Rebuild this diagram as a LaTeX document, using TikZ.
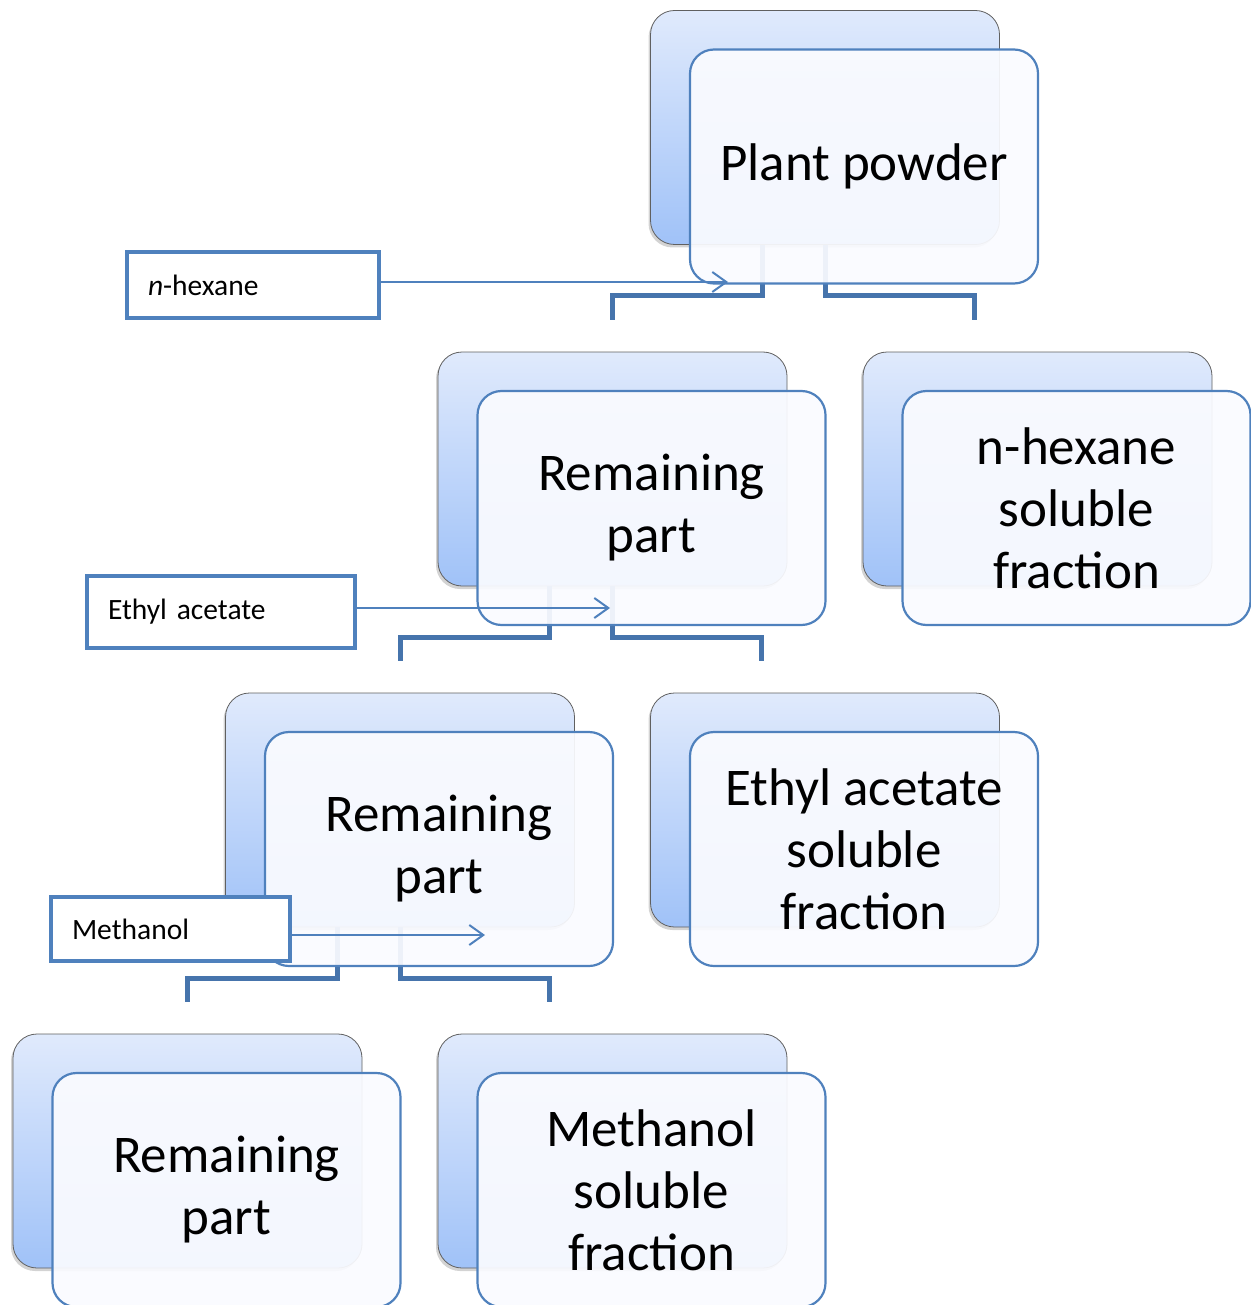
\documentclass[tikz,border=0pt]{standalone}
\usepackage{fontspec}
\setmainfont{Carlito}
\usetikzlibrary{arrows.meta,calc,shadows}

\definecolor{cardTop}{RGB}{224,234,252}
\definecolor{cardBot}{RGB}{160,194,248}
\definecolor{cardFace}{RGB}{250,251,255}
\definecolor{edgeBlue}{RGB}{79,129,189}
\definecolor{linkBlue}{RGB}{70,116,172}

\begin{document}
\begin{tikzpicture}[x=1pt, y=-1pt,
  back/.style={draw=gray!75!black, line width=0.8pt, rounded corners=24pt,
               top color=cardTop, bottom color=cardBot,
               minimum width=349pt, minimum height=234pt, inner sep=0pt,
               drop shadow={shadow xshift=-2pt, shadow yshift=-3pt, opacity=0.35}},
  front/.style={draw=edgeBlue, line width=2.2pt, rounded corners=24pt,
                fill=cardFace, fill opacity=0.93, text opacity=1,
                minimum width=348pt, minimum height=234pt, inner sep=0pt,
                align=center, font=\fontsize{53}{62}\selectfont},
  branch/.style={draw=linkBlue, line width=5pt},
  solvent/.style={draw=edgeBlue, line width=4.5pt, fill=white,
                  inner xsep=21pt, inner ysep=0pt, align=left,
                  font=\fontsize{29.5}{35}\selectfont},
  feed/.style={draw=edgeBlue, line width=2pt,
               -{Straight Barb[length=14pt,width=20pt]}},
]
\useasboundingbox (0,0) rectangle (1250,1305);

% ---- back cards --------------------------------------------------------------
\node[back] (plantB) at (825,127.5) {};
\node[back] (remAB)  at (612.5,469) {};
\node[back] (hexB)   at (1037.5,469) {};
\node[back] (remBB)  at (400,810) {};
\node[back] (ethB)   at (825,810) {};
\node[back] (remCB)  at (187.5,1151) {};
\node[back] (metB)   at (612.5,1151) {};

% ---- branches ------------------------------------------------------------------
\coordinate (hexIn) at ($(plantB.south)+(149,75)$);
\coordinate (ethIn) at ($(remAB.south)+(149,75)$);
\coordinate (metIn) at ($(remBB.south)+(149,75)$);

\draw[branch] ($(plantB.south)+(-63,0)$) -- ++(0,51) -| ($(remAB.north)+(0,-32)$);
\draw[branch] (plantB.south) -- ++(0,51) -| (hexIn);
\draw[branch] ($(remAB.south)+(-63,0)$) -- ++(0,51) -| ($(remBB.north)+(0,-32)$);
\draw[branch] (remAB.south) -- ++(0,51) -| (ethIn);
\draw[branch] ($(remBB.south)+(-63,0)$) -- ++(0,51) -| ($(remCB.north)+(0,-32)$);
\draw[branch] (remBB.south) -- ++(0,51) -| (metIn);

% ---- front cards -------------------------------------------------------------
\node[front] (plant) at ($(plantB)+(39,39)$) {Plant powder};
\node[front] (remA)  at ($(remAB)+(39,39)$)  {Remaining\\part};
\node[front] (hex)   at ($(hexB)+(39,39)$)   {n-hexane\\soluble\\fraction};
\node[front] (remB)  at ($(remBB)+(39,39)$)  {Remaining\\part};
\node[front] (eth)   at ($(ethB)+(39,39)$)   {Ethyl acetate\\soluble\\fraction};
\node[front] (remC)  at ($(remCB)+(39,39)$)  {Remaining\\part};
\node[front] (met)   at ($(metB)+(39,39)$)   {Methanol\\soluble\\fraction};

% ---- solvents ----------------------------------------------------------------
\node[solvent, text width=210pt, minimum height=66pt] (hexL) at (253,285) {\textit{n}-hexane};
\node[solvent, text width=226pt, minimum height=72pt] (ethL) at (221,612) {Ethyl acetate};
\node[solvent, text width=197pt, minimum height=64pt] (metL) at (170.5,929) {Methanol};

\coordinate (hexTip) at (728,282);
\coordinate (ethTip) at (610,608);
\coordinate (metTip) at (485,935);
\draw[feed] (hexL.east |- hexTip) -- (hexTip);
\draw[feed] (ethL.east |- ethTip) -- (ethTip);
\draw[feed] (metL.east |- metTip) -- (metTip);

\end{tikzpicture}
\end{document}
